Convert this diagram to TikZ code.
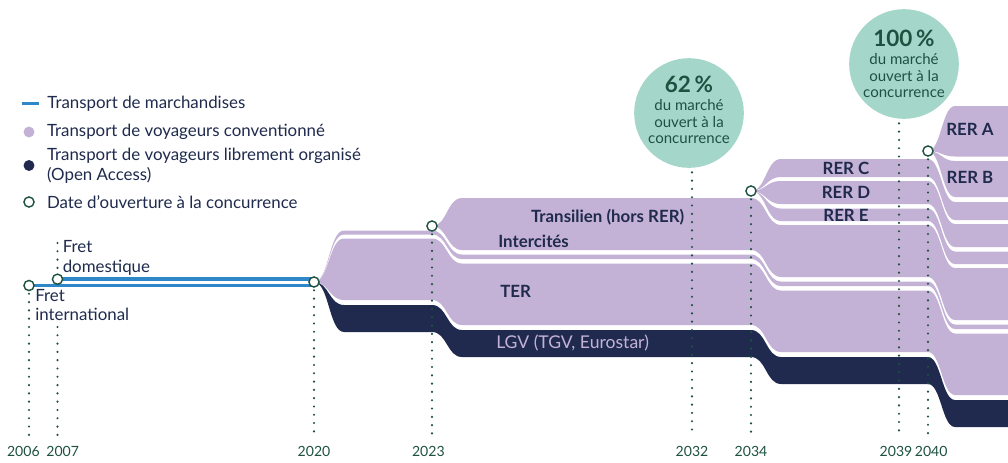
\documentclass[tikz,border=0pt]{standalone}
\usepackage{fontspec}
\setmainfont{Lato}
\usetikzlibrary{positioning}
\definecolor{lav}{HTML}{C4B2D6}
\definecolor{navy}{HTML}{202A4F}
\definecolor{fretblue}{HTML}{2D87C8}
\definecolor{mint}{HTML}{A5D6CA}
\definecolor{pine}{HTML}{1E5240}
\definecolor{ink}{HTML}{1F2A4D}
\tikzstyle{conv band}=[fill = lav]
\tikzstyle{oa band}=[fill = navy]
\tikzstyle{fret line}=[draw = fretblue, line width = 2.5pt]
\tikzstyle{open date}=[
        circle,
        draw = pine,
        fill = white,
        line width = 1pt,
        minimum size = 7.2pt,
        inner sep = 0pt
    ]
\tikzstyle{date line}=[
    draw = pine,
    line width = 1.7pt,
    line cap = round,
    dash pattern = on 0pt off 5.9pt
]
\tikzstyle{year}=[text = pine, font = \fontsize{10}{12}\selectfont, inner sep = 0pt]
\tikzstyle{legend text}=[text = ink, font = \fontsize{12}{14.2}\selectfont, inner sep = 0pt, align = left]
\tikzstyle{band label}=[text = ink, font = \fontsize{12}{14}\selectfont\bfseries, inner sep = 0pt]
\tikzstyle{bubble}=[circle, fill = mint, minimum size = 78pt, inner sep = 0pt]
\tikzstyle{bubble text}=[text = pine, align = center, font = \fontsize{10.7}{11.8}\selectfont, inner sep = 0pt]

\begin{document}
\begin{tikzpicture}[x=0.025cm, y=-0.025cm]
        \useasboundingbox (0,0) rectangle (1008,462);

        \coordinate (p2006) at (29,285.5);
        \coordinate (p2007) at (57.5,279.2);
        \coordinate (p2020) at (314,282);
        \coordinate (p2023) at (432,226);
        \coordinate (p2034) at (751,191);
        \coordinate (p2040) at (928,151);
        \coordinate (top2007) at (57.5,243);
        \coordinate (low2007) at (57.5,327);
        \foreach \yr/\xx in {2006/29, 2007/57.5, 2020/314, 2023/432, 2032/692, 2034/751, 2039/899, 2040/928}
            \coordinate (t\yr) at (\xx,436);

        % Intercites
        \fill[conv band] (p2020) .. controls +(15,0) and +(-15,0) .. (344,230.5) -- (432,230.5) .. controls +(15,0) and +(-15,0) .. (462,254.5) -- (751,254.5) .. controls +(15,0) and +(-15,0) .. (781,281.5) -- (928,281.5) .. controls +(13,0) and +(-13,0) .. (955,324.5) -- (1008,324.5)
            -- (1008,329) -- (955,329) .. controls +(-13,0) and +(13,0) .. (928,286) -- (781,286) .. controls +(-15,0) and +(15,0) .. (751,259) -- (462,259) .. controls +(-15,0) and +(15,0) .. (432,234.5) -- (344,234.5) .. controls +(-15,0) and +(15,0) .. (p2020) -- cycle;
        % TER
        \fill[conv band] (p2020) .. controls +(15,0) and +(-15,0) .. (344,238.5) -- (432,238.5) .. controls +(15,0) and +(-15,0) .. (462,263.5) -- (751,263.5) .. controls +(15,0) and +(-15,0) .. (781,290.5) -- (928,290.5) .. controls +(13,0) and +(-13,0) .. (955,333.5) -- (1008,333.5)
            -- (1008,395) -- (955,395) .. controls +(-13,0) and +(13,0) .. (928,352) -- (781,352) .. controls +(-15,0) and +(15,0) .. (751,325) -- (462,325) .. controls +(-15,0) and +(15,0) .. (432,300) -- (344,300) .. controls +(-15,0) and +(15,0) .. (p2020) -- cycle;
        % LGV
        \fill[oa band] (p2020) .. controls +(15,0) and +(-15,0) .. (344,305) -- (432,305) .. controls +(15,0) and +(-15,0) .. (462,330) -- (751,330) .. controls +(15,0) and +(-15,0) .. (781,357) -- (928,357) .. controls +(13,0) and +(-13,0) .. (955,400) -- (1008,400)
            -- (1008,427) -- (955,427) .. controls +(-13,0) and +(13,0) .. (928,384) -- (781,384) .. controls +(-15,0) and +(15,0) .. (751,357) -- (462,357) .. controls +(-15,0) and +(15,0) .. (432,332) -- (344,332) .. controls +(-15,0) and +(15,0) .. (p2020) -- cycle;
        % Transilien
        \fill[conv band] (p2023) .. controls +(15,0) and +(-15,0) .. (462,198) -- (751,198) .. controls +(15,0) and +(-15,0) .. (781,225) -- (928,225) .. controls +(13,0) and +(-13,0) .. (955,268) -- (1008,268)
            -- (1008,320) -- (955,320) .. controls +(-13,0) and +(13,0) .. (928,277) -- (781,277) .. controls +(-15,0) and +(15,0) .. (751,250) -- (462,250) .. controls +(-15,0) and +(15,0) .. (p2023) -- cycle;
        % RER C, D, E
        \fill[conv band] (p2034) .. controls +(15,0) and +(-15,0) .. (781,159) -- (928,159) .. controls +(13,0) and +(-13,0) .. (955,202) -- (1008,202)
            -- (1008,220) -- (955,220) .. controls +(-13,0) and +(13,0) .. (928,177) -- (781,177) .. controls +(-15,0) and +(15,0) .. (p2034) -- cycle;
        \fill[conv band] (p2034) .. controls +(15,0) and +(-15,0) .. (781,181) -- (928,181) .. controls +(13,0) and +(-13,0) .. (955,224) -- (1008,224)
            -- (1008,247) -- (955,247) .. controls +(-13,0) and +(13,0) .. (928,204) -- (781,204) .. controls +(-15,0) and +(15,0) .. (p2034) -- cycle;
        \fill[conv band] (p2034) .. controls +(15,0) and +(-15,0) .. (781,208.5) -- (928,208.5) .. controls +(13,0) and +(-13,0) .. (955,251.5) -- (1008,251.5)
            -- (1008,264) -- (955,264) .. controls +(-13,0) and +(13,0) .. (928,221) -- (781,221) .. controls +(-15,0) and +(15,0) .. (p2034) -- cycle;
        % RER A, B
        \fill[conv band] (p2040) .. controls +(13,0) and +(-13,0) .. (955,106) -- (1008,106)
            -- (1008,156.5) -- (955,156.5) .. controls +(-13,0) and +(13,0) .. (p2040) -- cycle;
        \fill[conv band] (p2040) .. controls +(13,0) and +(-13,0) .. (955,161) -- (1008,161)
            -- (1008,197) -- (955,197) .. controls +(-13,0) and +(13,0) .. (p2040) -- cycle;

        \draw[fret line] (p2006) -- (p2006 -| p2020);
        \draw[fret line] (p2007) -- (p2007 -| p2020);

        \node[bubble] (c62) at (689,113) {};
        \node[bubble] (c100) at (904,64) {};
        \node[bubble text] (c62t) at (689,110) {{\fontsize{16}{16}\selectfont\bfseries 62\,\%}\\[1pt]du marché\\ouvert à la\\concurrence};
        \node[bubble text] (c100t) at (904,64) {{\fontsize{16}{16}\selectfont\bfseries 100\,\%}\\[1pt]du marché\\ouvert à la\\concurrence};

        \draw[date line] (p2006) -- (t2006);
        \draw[date line] (top2007) -- (p2007);
        \draw[date line] (low2007) -- (t2007);
        \draw[date line] (p2020) -- (t2020);
        \draw[date line] (p2023) -- (t2023);
        \draw[date line, shorten <=3pt] (c62.south -| t2032) -- (t2032);
        \draw[date line] (p2034) -- (t2034);
        \draw[date line, shorten <=3pt] (c100.south -| t2039) -- (t2039);
        \draw[date line] (p2040) -- (t2040);

        \foreach \yr in {2006,2007,2020,2023,2034,2040}
            \node[open date] (m\yr) at (p\yr) {};
        \foreach \yr/\dx in {2006/-1.4mm, 2007/1.3mm, 2020/0mm, 2023/-0.9mm, 2032/0mm, 2034/0mm, 2039/-0.75mm, 2040/0.8mm}
            \node[year, below = 2.5mm of t\yr, xshift = \dx] (y\yr) {\yr};

        \node[legend text, anchor = base west] (fretd1) at (62.5,252.7) {Fret};
        \node[legend text, anchor = base west] (fretd2) at (62.5,272.7) {domestique};
        \node[legend text, anchor = base west] (freti1) at (35,301.7) {Fret};
        \node[legend text, anchor = base west] (freti2) at (35,320) {international};

        \node[band label, anchor = base east] (lbtr) at (684.5,222.7) {Transilien (hors RER)};
        \node[band label, anchor = base west] (lbic) at (498,247.3) {Intercités};
        \node[band label, anchor = base west] (lbter) at (500,297.7) {TER};
        \node[band label, anchor = base west, text = lav, font = \fontsize{12.5}{14}\selectfont] (lblgv) at (496,348.3) {LGV (TGV, Eurostar)};
        \node[band label, anchor = base] (lbc) at (846,174) {RER C};
        \node[band label, anchor = base] (lbd) at (846,198.3) {RER D};
        \node[band label, anchor = base] (lbe) at (846,221.7) {RER E};
        \node[band label, anchor = base] (lba) at (970,135) {RER A};
        \node[band label, anchor = base] (lbb) at (970,183.3) {RER B};

        \node[fill = fretblue, minimum width = 4.4mm, minimum height = 0.7mm, inner sep = 0pt] (lg1) at (30.5,103.3) {};
        \node[legend text, right = 1.9mm of lg1] (lt1) {Transport de marchandises};
        \node[circle, fill = lav, minimum size = 7.8pt, inner sep = 0pt] (lg2) at (29,132) {};
        \node[legend text, right = 3mm of lg2] (lt2) {Transport de voyageurs conventionné};
        \node[circle, fill = navy, minimum size = 7.8pt, inner sep = 0pt] (lg3) at (29,165.5) {};
        \node[legend text, right = 3mm of lg3] (lt3) {Transport de voyageurs librement organisé\\(Open Access)};
        \node[open date] (lg4) at (29,202) {};
        \node[legend text, right = 3mm of lg4] (lt4) {Date d’ouverture à la concurrence};

    \end{tikzpicture}
\end{document}
